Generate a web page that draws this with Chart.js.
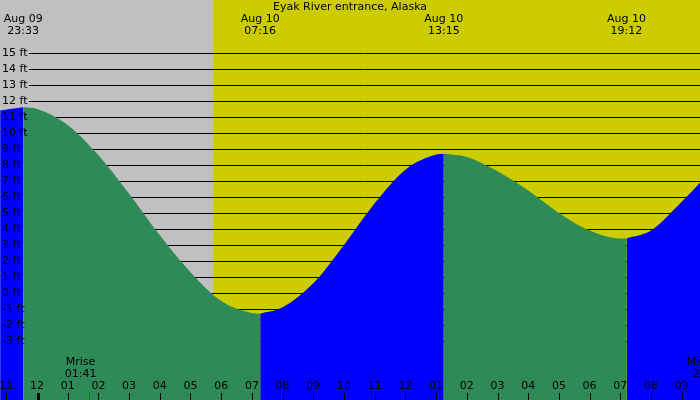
<!DOCTYPE html>
<html>
<head>
<meta charset="utf-8">
<script src="https://cdn.jsdelivr.net/npm/chart.js@4"></script>
<style>
  body { margin: 0; }
  #wrap { width: 700px; height: 400px; }
</style>
</head>
<body>
<div id="wrap"><canvas id="tide"></canvas></div>
<script>
// hours relative to Aug 10 00:00, heights in ft
const hours = [-1.2, -0.45, 0, 1, 2, 3, 4, 5, 6, 7, 7.27, 8, 9, 10, 11, 12, 13, 13.25,
  14, 15, 16, 17, 18, 19, 19.2, 20, 21, 21.6];
const heights = [11.4, 11.6, 11.5, 10.5, 8.6, 6.2, 3.6, 1.3, -0.5, -1.25, -1.3, -0.9, 0.6, 3.0, 5.6, 7.7, 8.65, 8.7,
  8.5, 7.6, 6.4, 5.0, 3.9, 3.4, 3.4, 3.9, 5.7, 6.9];
const turnHours = [-0.45, 7.27, 13.25, 19.2];
const turnLabels = [["Aug 09", "23:33"], ["Aug 10", "07:16"], ["Aug 10", "13:15"], ["Aug 10", "19:12"]];
const sunrise = 5.73;
const moonrise = 1.68;
const hourTicks = [-1, 0, 1, 2, 3, 4, 5, 6, 7, 8, 9, 10, 11, 12, 13, 14, 15, 16, 17, 18, 19, 20, 21];
const hourLabels = ["11", "12", "01", "02", "03", "04", "05", "06", "07", "08", "09", "10", "11", "12",
  "01", "02", "03", "04", "05", "06", "07", "08", "09"];
const footLevels = [15, 14, 13, 12, 11, 10, 9, 8, 7, 6, 5, 4, 3, 2, 1, 0, -1, -2, -3];

const GREEN = "#2e8b57", BLUE = "#0000ff";

// split the curve into rising (blue) and falling (green) pieces
let bounds = [hours[0]].concat(turnHours, [hours[hours.length - 1]]);
let datasets = [];
for (let i = 0; i < bounds.length - 1; i++) {
  let pts = [];
  for (let j = 0; j < hours.length; j++) {
    if (hours[j] >= bounds[i] && hours[j] <= bounds[i + 1]) pts.push({ x: hours[j], y: heights[j] });
  }
  datasets.push({
    data: pts,
    backgroundColor: i % 2 == 0 ? BLUE : GREEN,
    borderWidth: 0,
    pointRadius: 0,
    fill: "start",
    tension: 0.4,
    cubicInterpolationMode: "monotone",
  });
}

const FONT = "11px 'DejaVu Sans', sans-serif";

const tidePlugin = {
  id: "tide",
  beforeDatasetsDraw(chart) {
    const ctx = chart.ctx, xs = chart.scales.x, ys = chart.scales.y;
    const xs0 = xs.getPixelForValue(sunrise);
    ctx.save();
    ctx.fillStyle = "#c0c0c0";
    ctx.fillRect(0, 0, xs0, 400);
    ctx.fillStyle = "#cccc00";
    ctx.fillRect(xs0, 0, 700 - xs0, 400);
    ctx.strokeStyle = "#000";
    ctx.lineWidth = 1;
    for (const f of footLevels) {
      const y = Math.round(ys.getPixelForValue(f)) + 0.5;
      ctx.beginPath();
      ctx.moveTo(29, y);
      ctx.lineTo(700, y);
      ctx.stroke();
    }
    ctx.restore();
  },
  afterDatasetsDraw(chart) {
    const ctx = chart.ctx, xs = chart.scales.x, ys = chart.scales.y;
    ctx.save();
    ctx.font = FONT;
    ctx.fillStyle = "#000";
    ctx.textBaseline = "middle";
    ctx.textAlign = "left";
    for (const f of footLevels) {
      ctx.fillText(f + " ft", 2, ys.getPixelForValue(f));
    }
    ctx.textAlign = "center";
    ctx.fillText("Eyak River entrance, Alaska", 350, 7);
    turnHours.forEach((h, i) => {
      let x = Math.max(22, xs.getPixelForValue(h));
      ctx.fillText(turnLabels[i][0], x, 19);
      ctx.fillText(turnLabels[i][1], x, 31);
    });
    const mx = xs.getPixelForValue(moonrise);
    ctx.fillText("Mrise", mx - 8, 362);
    ctx.fillText("01:41", mx - 8, 374);
    ctx.fillText("Mset", 700, 362);
    ctx.fillText("21", 700, 374);
    hourTicks.forEach((h, i) => {
      const x = xs.getPixelForValue(h);
      ctx.fillText(hourLabels[i], x, 386);
      ctx.fillRect(Math.round(x), 393, h == 0 ? 3 : 1, 7);
    });
    ctx.fillStyle = "#ff0000";
    ctx.fillRect(Math.round(mx), 393, 1, 7);
    ctx.restore();
  },
};

new Chart("tide", {
  type: "line",
  data: { datasets: datasets },
  options: {
    responsive: true,
    maintainAspectRatio: false,
    animation: false,
    layout: { padding: 0 },
    plugins: { legend: { display: false }, tooltip: { enabled: false } },
    scales: {
      x: { type: "linear", min: -1.205, max: 21.596, display: false },
      y: { min: -6.69, max: 18.31, display: false },
    },
  },
  plugins: [tidePlugin],
});
</script>
</body>
</html>
